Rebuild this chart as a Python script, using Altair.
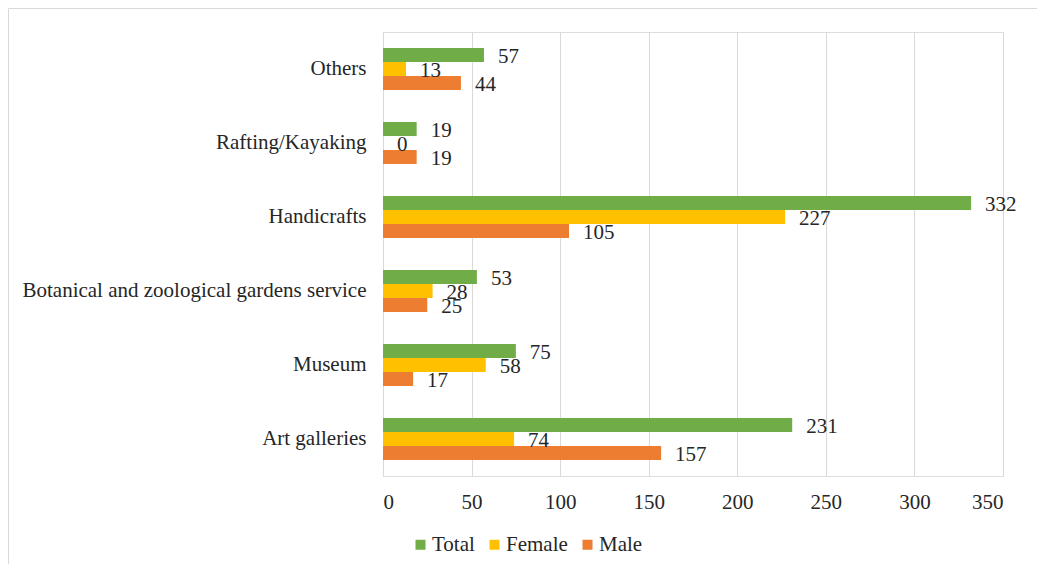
import altair as alt
import pandas as pd

categories = ["Others", "Rafting/Kayaking", "Handicrafts",
              "Botanical and zoological gardens service", "Museum", "Art galleries"]
series = ["Total", "Female", "Male"]
total = [57, 19, 332, 53, 75, 231]
female = [13, 0, 227, 28, 58, 74]
male = [44, 19, 105, 25, 17, 157]
colors = ["#70AD47", "#FFC000", "#ED7D31"]
x_ticks = [0, 50, 100, 150, 200, 250, 300, 350]

rows = []
for s, vals in zip(series, [total, female, male]):
    for c, v in zip(categories, vals):
        rows.append({"category": c, "series": s, "value": v})
df = pd.DataFrame(rows)

FONT = "Times New Roman, Liberation Serif, serif"
TXT = "#262626"
FS = 21

y_enc = alt.Y("category:N", sort=categories, title=None,
              scale=alt.Scale(paddingInner=0.432, paddingOuter=0.216),
              axis=alt.Axis(ticks=False, domain=False, labelPadding=17,
                            labelFontSize=FS, labelFont=FONT, labelColor=TXT,
                            labelLimit=400))
yoff = alt.YOffset("series:N", sort=series, scale=alt.Scale(domain=series))
x_enc = alt.X("value:Q", title=None,
              scale=alt.Scale(domain=[0, 350], nice=False),
              axis=alt.Axis(values=x_ticks, ticks=False, domain=False,
                            gridColor="#d9d9d9", gridWidth=1,
                            labelPadding=15, labelFontSize=FS, labelFont=FONT,
                            labelColor=TXT))

bars = alt.Chart(df).mark_bar().encode(
    x=x_enc,
    y=y_enc,
    yOffset=yoff,
    color=alt.Color("series:N", sort=series,
                    scale=alt.Scale(domain=series, range=colors),
                    legend=alt.Legend(title=None, orient="none", direction="horizontal",
                                      legendX=27, legendY=502, padding=0,
                                      symbolType="square", symbolSize=100,
                                      symbolStrokeWidth=0, labelFontSize=FS,
                                      labelFont=FONT, labelColor=TXT,
                                      labelOffset=1, columnPadding=9)),
)

labels = alt.Chart(df).mark_text(align="left", baseline="middle", dx=14, dy=2,
                                 fontSize=FS, font=FONT, color=TXT).encode(
    x="value:Q",
    y=alt.Y("category:N", sort=categories),
    yOffset=yoff,
    text="value:Q",
)

border = alt.Chart(pd.DataFrame({"a": [0]})).mark_rect(
    fill=None, stroke="#d9d9d9", strokeWidth=1).encode(
    x=alt.value(-374.5), x2=alt.value(900),
    y=alt.value(-23.5), y2=alt.value(800),
)

chart = alt.layer(border, bars, labels).properties(
    width=620, height=444,
    autosize=alt.AutoSizeParams(type="none"),
    padding={"left": 375, "top": 24, "right": 34, "bottom": 88},
).configure_view(stroke=None).configure(background="white", font=FONT)

chart.save("out.html", embed_options={"renderer": "svg", "actions": False})
